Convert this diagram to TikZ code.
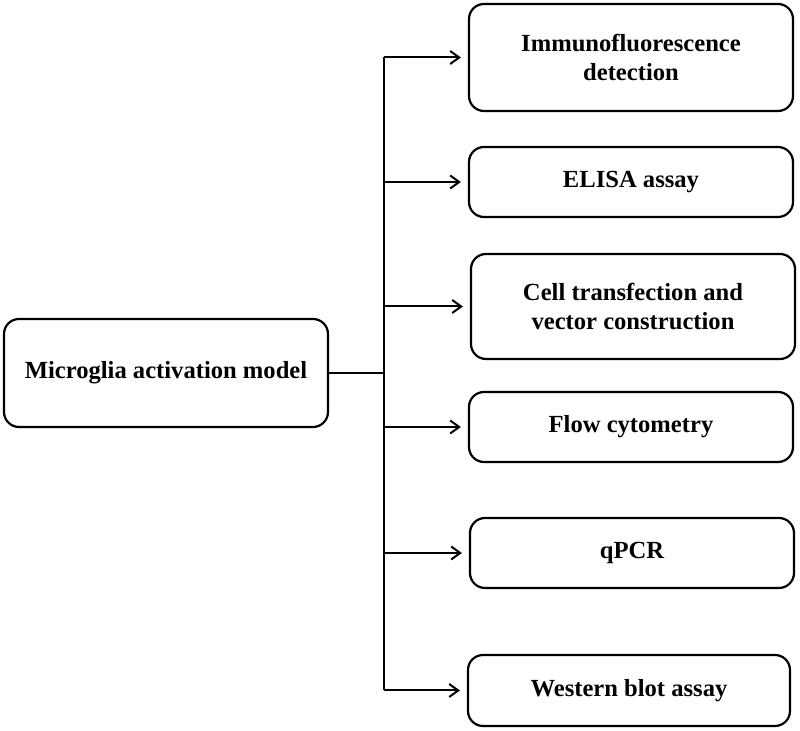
\documentclass[tikz,border=0pt]{standalone}
\usepackage{fontspec}
\setmainfont{Liberation Serif}
\usetikzlibrary{arrows.meta,positioning}

\tikzset{
  box/.style={draw, line width=1.1pt, rounded corners=7.5pt, align=center,
    minimum width=162pt, font=\fontsize{12.3}{14.5}\selectfont\bfseries},
  link/.style={line width=1pt},
}

\begin{document}
\begin{tikzpicture}[x=0.5pt,y=-0.5pt,>={Straight Barb[length=4.5pt,width=6.5pt]}]
     % pixel grid of the figure, y downwards
     \useasboundingbox (0,0) rectangle (800,731);
     \node[box, minimum height=54pt] (model) at (166,373) {Microglia activation model};
     \node[box, minimum height=53.5pt] (immuno) at (631,57.5) {Immunofluorescence\\detection};
     \node[box, minimum height=35pt] (elisa) at (631,182) {ELISA assay};
     \node[box, minimum height=52.5pt] (transf) at (633,306.5) {Cell transfection and\\vector construction};
     \node[box, minimum height=35pt] (flow) at (631,427) {Flow cytometry};
     \node[box, minimum height=35pt] (qpcr) at (632,553) {qPCR};
     \node[box, minimum height=35.5pt, minimum width=161pt] (western) at (629,690.5) {Western blot assay};
     \coordinate (top) at (384,57);
     \coordinate (bot) at (384,690);
     \draw[link] (top) -- (bot);
     \draw[link] (model.east) -- (model.east -| top);
     \foreach \n in {immuno,elisa,transf,flow,qpcr,western}
       \draw[link,->,shorten >=3.5pt] (\n.west -| top) -- (\n.west);
\end{tikzpicture}
\end{document}
